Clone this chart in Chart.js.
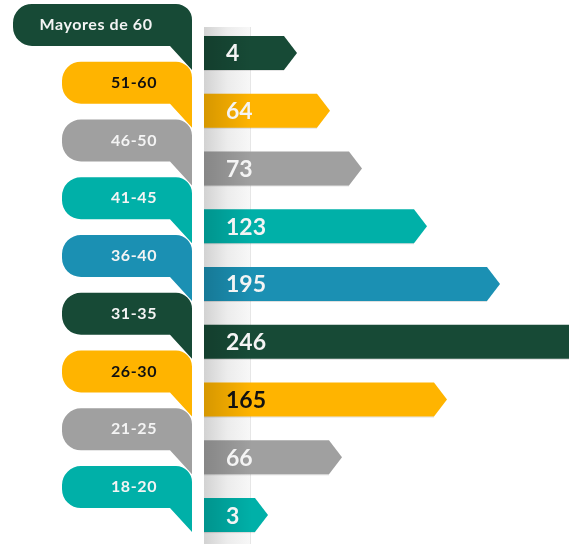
<!DOCTYPE html>
<html>
<head>
<meta charset="utf-8">
<script src="https://cdn.jsdelivr.net/npm/chart.js@4/dist/chart.umd.min.js"></script>
<style>
  html, body { margin: 0; padding: 0; background: #fff; }
  canvas { display: block; }
</style>
</head>
<body>
<canvas id="ages" width="569" height="544"></canvas>
<script>
// age groups, top to bottom
const groups = ['Mayores de 60', '51-60', '46-50', '41-45', '36-40', '31-35', '26-30', '21-25', '18-20'];
// numbers printed on the bars
const counts = [4, 64, 73, 123, 195, 246, 165, 66, 3];
// drawn length of each arrow as read off the graphic (not proportional to counts)
const barLengths = [93, 126, 158, 223, 296, 400, 243, 138, 64];

const GREEN = '#174a36', YELLOW = '#ffb400', GREY = '#a0a0a0', TEAL = '#00b0a8', BLUE = '#1b90b3';
const colors = [GREEN, YELLOW, GREY, TEAL, BLUE, GREEN, YELLOW, GREY, TEAL];
const darkText = [false, true, false, false, false, false, true, false, false];
const valueDark = [false, false, false, false, false, false, true, false, false];

const infographic = {
    id: 'infographic',
    beforeDatasetsDraw(chart) {
        const ctx = chart.ctx;
        const left = chart.chartArea.left;
        // light grey column behind the bar bases
        const g = ctx.createLinearGradient(left, 0, left + 47, 0);
        g.addColorStop(0, '#d2d2d2');
        g.addColorStop(0.5, '#ececec');
        g.addColorStop(1, '#f8f8f8');
        ctx.save();
        ctx.fillStyle = g;
        ctx.fillRect(left, 27, 47, chart.height - 27);
        ctx.fillStyle = '#e6e6e6';
        ctx.fillRect(left + 46, 27, 1, chart.height - 27);
        ctx.restore();
    },
    afterDatasetsDraw(chart) {
        const ctx = chart.ctx;
        const meta = chart.getDatasetMeta(0);
        ctx.save();
        meta.data.forEach((bar, i) => {
            const { x, y, base, height } = bar.getProps(['x', 'y', 'base', 'height'], true);
            const top = y - height / 2, bottom = y + height / 2;
            const tip = 13;

            // arrow bar
            ctx.beginPath();
            ctx.moveTo(base, top);
            ctx.lineTo(x - tip, top);
            ctx.lineTo(x, y);
            ctx.lineTo(x - tip, bottom);
            ctx.lineTo(base, bottom);
            ctx.closePath();
            ctx.fillStyle = colors[i];
            ctx.fill();
            const shade = ctx.createLinearGradient(base, 0, base + 48, 0);
            shade.addColorStop(0, 'rgba(0,0,0,0.16)');
            shade.addColorStop(1, 'rgba(0,0,0,0)');
            ctx.fillStyle = shade;
            ctx.fillRect(base, top, 48, height);
            ctx.fillStyle = 'rgba(0,0,0,0.12)';
            ctx.fillRect(base, bottom, x - tip - base, 1);

            // value
            ctx.letterSpacing = '0px';
            ctx.fillStyle = valueDark[i] ? '#111' : '#f4f4f4';
            ctx.font = 'bold 23px Lato, sans-serif';
            ctx.textAlign = 'left';
            ctx.textBaseline = 'middle';
            ctx.fillText(String(counts[i]), base + 22, y + 1);

            // speech bubble label
            const R = base - 12;
            const L = i === 0 ? 13 : 62;
            const T = top - 32, B = top + 10;
            const r = 19, r2 = 16, tailX = R - 22;
            ctx.beginPath();
            ctx.moveTo(L + r, T);
            ctx.lineTo(R - r2, T);
            ctx.arcTo(R, T, R, T + r2, r2);
            ctx.lineTo(R, bottom);
            ctx.lineTo(tailX, B);
            ctx.lineTo(L + r, B);
            ctx.arcTo(L, B, L, B - r, r);
            ctx.lineTo(L, T + r);
            ctx.arcTo(L, T, L + r, T, r);
            ctx.closePath();
            ctx.fillStyle = colors[i];
            ctx.fill();

            ctx.fillStyle = darkText[i] ? '#111' : '#f4f4f4';
            ctx.font = 'bold 16px Lato, sans-serif';
            ctx.letterSpacing = '0.6px';
            ctx.textAlign = 'center';
            const cx = i === 0 ? 96 : 134;
            ctx.fillText(groups[i], cx, (T + B) / 2);
        });
        ctx.restore();
    }
};

new Chart(document.getElementById('ages').getContext('2d'), {
    type: 'bar',
    data: {
        labels: groups,
        datasets: [{
            data: barLengths,
            backgroundColor: 'rgba(0,0,0,0)',
            barThickness: 34
        }]
    },
    options: {
        indexAxis: 'y',
        responsive: false,
        animation: false,
        layout: { padding: { left: 204, top: 24, right: 0, bottom: 0 } },
        plugins: { legend: { display: false }, tooltip: { enabled: false } },
        scales: {
            x: { display: false, min: 0, max: 365 },
            y: { display: false }
        }
    },
    plugins: [infographic]
});
</script>
</body>
</html>
